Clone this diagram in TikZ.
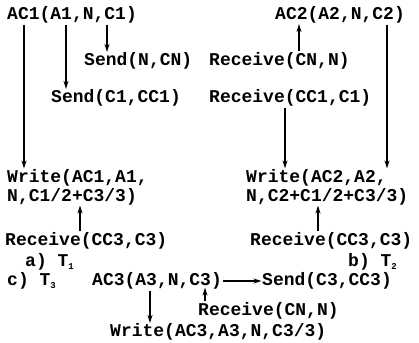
\documentclass[tikz,border=0pt]{standalone}
\usepackage{fontspec}
\setmonofont{Liberation Mono}
\usepackage{tikz}
\usetikzlibrary{arrows.meta, calc}

\newcommand{\tsub}[1]{\raisebox{-2.5pt}{\fontsize{9}{9}\selectfont #1}}

\begin{document}
\begin{tikzpicture}[x=1pt, y=-1pt,
    txt/.style={anchor=west, inner sep=0pt, align=left, font=\fontsize{18}{19}\selectfont\ttfamily\bfseries},
    arr/.style={-{Stealth[length=8pt, width=5pt]}, line width=1.2pt, shorten <=1pt, shorten >=0.5pt},
]
\useasboundingbox (0,0) rectangle (419,342);

\node[txt] (ac1) at (7,15) {AC1(A1,N,C1)};
\node[txt] (sendn) at (84,61) {Send(N,CN)};
\node[txt] (sendc) at (51,98) {Send(C1,CC1)};
\node[txt] (ac2) at (275,15) {AC2(A2,N,C2)};
\node[txt] (recvn) at (209,61) {Receive(CN,N)};
\node[txt] (recvc) at (209,98) {Receive(CC1,C1)};
\node[txt] (wrone) at (7,187) {Write(AC1,A1,\\N,C1/2+C3/3)};
\node[txt] (wrtwo) at (246,187) {Write(AC2,A2,\\N,C2+C1/2+C3/3)};
\node[txt] (rcvthreea) at (5,241) {Receive(CC3,C3)};
\node[txt] (rcvthreeb) at (250,241) {Receive(CC3,C3)};
\node[txt] (capa) at (25,262) {a) T\tsub{1}};
\node[txt] (capb) at (348,262) {b) T\tsub{2}};
\node[txt] (capc) at (7,281) {c) T\tsub{3}};
\node[txt] (ac3) at (92,281) {AC3(A3,N,C3)};
\node[txt] (sendthree) at (262,281) {Send(C3,CC3)};
\node[txt] (recvnthree) at (198,311) {Receive(CN,N)};
\node[txt] (wrthree) at (110,332) {Write(AC3,A3,N,C3/3)};

% T1
\draw[arr] ([xshift=17pt]ac1.south west) -- ([xshift=17pt]ac1.south west |- wrone.north);
\draw[arr] ([xshift=59pt]ac1.south west) -- ([xshift=59pt]ac1.south west |- sendc.north);
\draw[arr] ([xshift=100pt]ac1.south west) -- ([xshift=100pt]ac1.south west |- sendn.north);
\draw[arr] ([xshift=75pt]rcvthreea.north west) -- ([xshift=75pt]rcvthreea.north west |- wrone.south);
% T2
\draw[arr] ([xshift=24pt]ac2.south west |- recvn.north) -- ([xshift=24pt]ac2.south west);
\draw[arr] ([xshift=112pt]ac2.south west) -- ([xshift=112pt]ac2.south west |- wrtwo.north);
\draw[arr] ([xshift=76pt]recvc.south west) -- ([xshift=76pt]recvc.south west |- wrtwo.north);
\draw[arr] ([xshift=68pt]rcvthreeb.north west) -- ([xshift=68pt]rcvthreeb.north west |- wrtwo.south);
% T3
\draw[arr] (ac3.east) -- (sendthree.west);
\draw[arr] ([xshift=58pt]ac3.south west) -- ([xshift=58pt]ac3.south west |- wrthree.north);
\draw[arr, shorten >=-2pt] ([xshift=113pt]ac3.south west |- recvnthree.north) -- ([xshift=113pt]ac3.south west);

\end{tikzpicture}
\end{document}
